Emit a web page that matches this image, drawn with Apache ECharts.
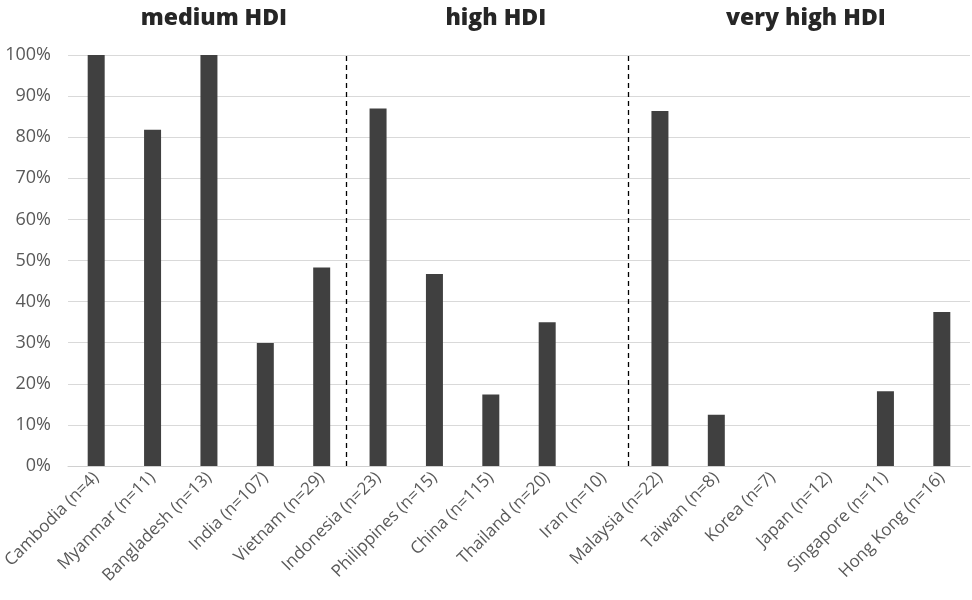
<!DOCTYPE html>
<html>
<head>
<meta charset="utf-8">
<script src="https://cdn.jsdelivr.net/npm/echarts@6/dist/echarts.min.js"></script>
<style>
  html, body { margin: 0; padding: 0; background: #fff; }
  #chart { width: 972px; height: 600px; }
</style>
</head>
<body>
<div id="chart"></div>
<script>
// data
const countries = [
  'Cambodia (n=4)', 'Myanmar (n=11)', 'Bangladesh (n=13)', 'India (n=107)', 'Vietnam (n=29)',
  'Indonesia (n=23)', 'Philippines (n=15)', 'China (n=115)', 'Thailand (n=20)', 'Iran (n=10)',
  'Malaysia (n=22)', 'Taiwan (n=8)', 'Korea (n=7)', 'Japan (n=12)', 'Singapore (n=11)', 'Hong Kong (n=16)'
];
const shares = [100, 81.8, 100, 29.9, 48.3, 87.0, 46.7, 17.4, 35.0, 0, 86.4, 12.5, 0, 0, 18.2, 37.5];
const groupNames = ['medium HDI', 'high HDI', 'very high HDI'];
const groupSizes = [5, 5, 6];
const yTicks = [0, 10, 20, 30, 40, 50, 60, 70, 80, 90, 100];

const FONT = '"Open Sans", Lato, sans-serif';
const chart = echarts.init(document.getElementById('chart'));

// group separators sit on category boundaries (on a hidden 0..n value axis)
const separators = [];
let acc = 0;
groupSizes.slice(0, -1).forEach(s => { acc += s; separators.push(acc - 0.07); });

const option = {
  animation: false,
  grid: { left: 68, right: 2, top: 55, bottom: 134, outerBoundsMode: 'none' },
  title: [],
  xAxis: [
    {
      type: 'category',
      data: countries,
      axisTick: { show: false },
      axisLine: { lineStyle: { color: '#d0d0d0', width: 1 } },
      axisLabel: { rotate: 45, interval: 0, color: '#595959', fontSize: 17, fontFamily: FONT, margin: 9 }
    },
    { type: 'value', min: 0, max: countries.length, show: false }
  ],
  yAxis: {
    type: 'value',
    min: 0,
    max: 100,
    interval: 10,
    axisLine: { show: false },
    axisTick: { show: false },
    splitLine: { lineStyle: { color: '#d9d9d9', width: 1 } },
    axisLabel: {
      color: '#595959', fontSize: 18, fontFamily: FONT, margin: 17,
      formatter: v => yTicks.includes(v) ? v + '%' : ''
    }
  },
  series: [
    {
      type: 'bar',
      data: shares,
      barWidth: 17,
      itemStyle: { color: '#404040' }
    },
    {
      type: 'line',
      xAxisIndex: 1,
      data: [],
      markLine: {
        silent: true,
        symbol: 'none',
        label: { show: false },
        lineStyle: { color: '#000', type: [5, 4], width: 1.3 },
        data: separators.map(x => ({ xAxis: x }))
      }
    }
  ]
};

// group titles centred above each group
let start = 0;
const plotW = 972 - 68 - 2;
groupNames.forEach((name, i) => {
  const mid = start + groupSizes[i] / 2;
  option.title.push({
    text: name,
    left: 68 + plotW * mid / countries.length,
    top: 2,
    textAlign: 'center',
    textStyle: { fontSize: 23, fontWeight: 800, color: '#262626', fontFamily: FONT }
  });
  start += groupSizes[i];
});

chart.setOption(option);
</script>
</body>
</html>
